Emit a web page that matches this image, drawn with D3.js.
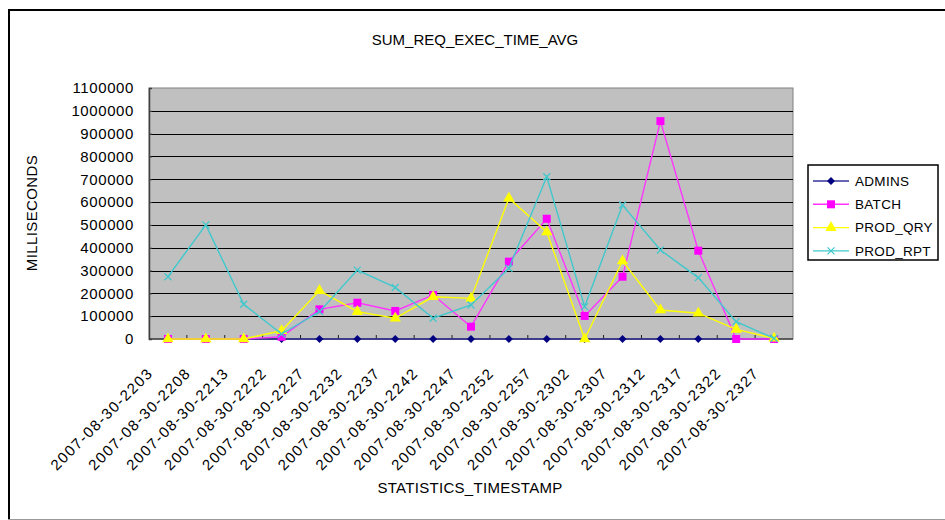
<!DOCTYPE html>
<html>
<head>
<meta charset="utf-8">
<script src="https://cdn.jsdelivr.net/npm/d3@7"></script>
<style>
  body { margin: 0; background: #fff; }
  text { font-family: "Liberation Sans", Arial, sans-serif; fill: #000; }
</style>
</head>
<body>
<svg id="chart" width="945" height="520"></svg>
<script>
// Sample timestamps (x categories)
const categories = [
  "2007-08-30-2203", "2007-08-30-2208", "2007-08-30-2213", "2007-08-30-2222",
  "2007-08-30-2227", "2007-08-30-2232", "2007-08-30-2237", "2007-08-30-2242",
  "2007-08-30-2247", "2007-08-30-2252", "2007-08-30-2257", "2007-08-30-2302",
  "2007-08-30-2307", "2007-08-30-2312", "2007-08-30-2317", "2007-08-30-2322",
  "2007-08-30-2327"
];

// Average request execution time per workload, in milliseconds
const admins  = [0, 0, 0, 0, 0, 0, 0, 0, 0, 0, 0, 0, 0, 0, 0, 0, 0];
const batch   = [0, 0, 0, 10000, 130000, 159000, 123000, 193000, 54000, 339000, 527000, 101000, 273000, 955000, 387000, 0, 0];
const prodQry = [0, 0, 0, 36000, 212000, 120000, 91000, 185000, 178000, 617000, 469000, 0, 342000, 127000, 113000, 42000, 3000];
const prodRpt = [273000, 500000, 152000, 22000, 120000, 302000, 226000, 91000, 149000, 310000, 711000, 142000, 587000, 390000, 269000, 76000, 3000];

const seriesNames = ["ADMINS", "BATCH", "PROD_QRY", "PROD_RPT"];
const yTicks = [0, 100000, 200000, 300000, 400000, 500000, 600000, 700000, 800000, 900000, 1000000, 1100000];

const chartTitle = "SUM_REQ_EXEC_TIME_AVG";
const xTitle = "STATISTICS_TIMESTAMP";
const yTitle = "MILLISECONDS";

const series = [
  { name: seriesNames[0], values: admins,  line: "#333399", fill: "#000080", shape: "diamond" },
  { name: seriesNames[1], values: batch,   line: "#ff33ff", fill: "#ff00ff", shape: "square" },
  { name: seriesNames[2], values: prodQry, line: "#ffff00", fill: "#ffff00", shape: "triangle" },
  { name: seriesNames[3], values: prodRpt, line: "#40c8cc", fill: "#40c8cc", shape: "cross" }
];

const svg = d3.select("#chart");
const plot = { left: 149, right: 793, top: 88, bottom: 339 };

// Chart frame
svg.append("line").attr("x1", 9).attr("y1", 10).attr("x2", 945).attr("y2", 10)
  .attr("stroke", "#000").attr("stroke-width", 2);
svg.append("line").attr("x1", 9).attr("y1", 9).attr("x2", 9).attr("y2", 519)
  .attr("stroke", "#000").attr("stroke-width", 2);
svg.append("line").attr("x1", 8).attr("y1", 519.5).attr("x2", 945).attr("y2", 519.5)
  .attr("stroke", "#999").attr("stroke-width", 1);

const x = d3.scaleBand().domain(categories).range([plot.left, plot.right]).padding(0);
const cx = c => x(c) + x.bandwidth() / 2;
const y = d3.scaleLinear().domain([0, 1100000]).range([plot.bottom, plot.top]);

// Plot background
svg.append("rect")
  .attr("x", plot.left).attr("y", plot.top)
  .attr("width", plot.right - plot.left).attr("height", plot.bottom - plot.top)
  .attr("fill", "#c0c0c0")
  .attr("stroke", "#808080").attr("stroke-width", 1);

// Horizontal gridlines
svg.append("g").selectAll("line")
  .data(yTicks.filter(v => v > 0 && v < 1100000))
  .join("line")
  .attr("x1", plot.left).attr("x2", plot.right)
  .attr("y1", d => Math.round(y(d)) + 0.5).attr("y2", d => Math.round(y(d)) + 0.5)
  .attr("stroke", "#000").attr("stroke-width", 1);

// Y axis
const yAxis = d3.axisLeft(y).tickValues(yTicks).tickSize(-3).tickPadding(15)
  .tickFormat(d3.format("d"));
const gy = svg.append("g").attr("transform", `translate(${plot.left},0)`).call(yAxis);
gy.select(".domain").attr("stroke", "#404040").attr("stroke-width", 1.5);
gy.selectAll(".tick line").attr("stroke", "#404040");
gy.selectAll(".tick text")
  .style("font-family", "'Liberation Sans', Arial, sans-serif")
  .style("font-size", "15px").style("letter-spacing", "0.6px").attr("fill", "#000");

// X axis: ticks at category boundaries, labels rotated
const gx = svg.append("g").attr("transform", `translate(0,${plot.bottom})`);
gx.append("line").attr("x1", plot.left).attr("x2", plot.right).attr("y1", 0).attr("y2", 0)
  .attr("stroke", "#404040").attr("stroke-width", 1.5);
gx.selectAll("line.tk").data(categories.slice(1)).join("line").attr("class", "tk")
  .attr("x1", d => x(d)).attr("x2", d => x(d)).attr("y1", 0).attr("y2", -4)
  .attr("stroke", "#202020");
gx.selectAll("text.lbl").data(categories).join("text").attr("class", "lbl")
  .attr("transform", d => `translate(${cx(d) - 14},35) rotate(-45)`)
  .attr("text-anchor", "end")
  .style("font-size", "15px").style("letter-spacing", "1.5px")
  .text(d => d);

// Marker shapes
function marker(sel, shape, fill) {
  if (shape === "cross") {
    const r = 3.5;
    sel.append("path")
      .attr("d", `M${-r},${-r}L${r},${r}M${-r},${r}L${r},${-r}`)
      .attr("stroke", fill).attr("stroke-width", 1.3).attr("fill", "none");
  } else {
    const sym = {
      diamond: d3.symbolDiamond2 || d3.symbolDiamond,
      square: d3.symbolSquare,
      triangle: d3.symbolTriangle
    }[shape];
    const size = { diamond: 40, square: 64, triangle: 56 }[shape];
    sel.append("path").attr("d", d3.symbol(sym, size)()).attr("fill", fill);
  }
}

// Series lines and markers
const line = d3.line().x((d, i) => cx(categories[i])).y(d => y(d));
series.forEach(s => {
  const g = svg.append("g");
  g.append("path").datum(s.values).attr("d", line)
    .attr("fill", "none").attr("stroke", s.line).attr("stroke-width", 1.4);
  s.values.forEach((v, i) => {
    const m = g.append("g").attr("transform", `translate(${cx(categories[i])},${y(v)})`);
    marker(m, s.shape, s.fill);
  });
});

// Titles
svg.append("text").attr("x", 475).attr("y", 45).attr("text-anchor", "middle")
  .style("font-size", "15px").text(chartTitle);
svg.append("text").attr("x", 470).attr("y", 493).attr("text-anchor", "middle")
  .style("font-size", "15px").style("letter-spacing", "0.3px").text(xTitle);
svg.append("text").attr("transform", "translate(37,213) rotate(-90)").attr("text-anchor", "middle")
  .style("font-size", "15px").style("letter-spacing", "0.4px").text(yTitle);

// Legend
const lg = svg.append("g");
lg.append("rect").attr("x", 808).attr("y", 165).attr("width", 130).attr("height", 95)
  .attr("fill", "#fff").attr("stroke", "#000").attr("stroke-width", 1.5);
series.forEach((s, i) => {
  const ly = 181 + i * 23.3;
  lg.append("line").attr("x1", 813).attr("x2", 849).attr("y1", ly).attr("y2", ly)
    .attr("stroke", s.line).attr("stroke-width", 1.4);
  marker(lg.append("g").attr("transform", `translate(831,${ly})`), s.shape, s.fill);
  lg.append("text").attr("x", 855).attr("y", ly).attr("dy", "0.36em")
    .style("font-size", "13.5px").style("letter-spacing", "0.3px").text(s.name);
});
</script>
</body>
</html>
